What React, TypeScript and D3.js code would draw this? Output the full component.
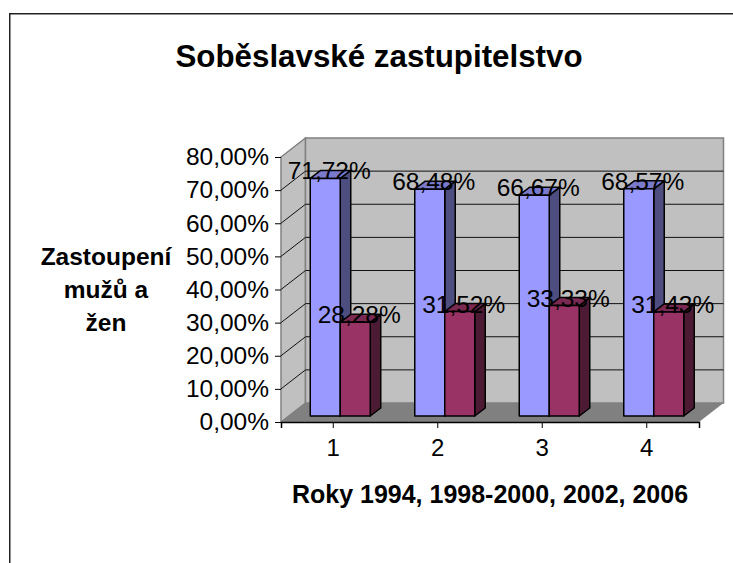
import React, { useEffect, useRef } from "react";
import { select, scaleBand, scaleLinear, axisLeft, axisBottom } from "d3";

const categories = ["1", "2", "3", "4"];
const men = [71.72, 68.48, 66.67, 68.57];
const women = [28.28, 31.52, 33.33, 31.43];
const yTicks = [0, 10, 20, 30, 40, 50, 60, 70, 80];
const yTitle = ["Zastoupení", "mužů a", "žen"];
const chartTitle = "Soběslavské zastupitelstvo";
const xTitle = "Roky 1994, 1998-2000, 2002, 2006";

const FONT = "'Liberation Sans', Arial, sans-serif";
const fmt = (v: number) => v.toFixed(2).replace(".", ",") + "%";

const seriesList = [
  { values: men, front: "#9999ff", side: "#4d4d80", top: "#7a7acc" },
  { values: women, front: "#993366", side: "#4d1a33", top: "#7a2952" },
];

const App = () => {
  const svgRef = useRef<SVGSVGElement>(null);

  useEffect(() => {
    const svg = select(svgRef.current);
    svg.selectAll("*").remove();

    // Frame, it runs off the right and the bottom of the page
    svg
      .append("rect")
      .attr("x", 9.75)
      .attr("y", 13.75)
      .attr("width", 800)
      .attr("height", 700)
      .attr("fill", "white")
      .attr("stroke", "#222")
      .attr("stroke-width", 1.5);

    const xScale = scaleBand().domain(categories).range([281, 699]);
    const yScale = scaleLinear().domain([0, 80]).range([422, 157]);

    // Depth of the walls and of the bars
    const wallDx = 24.5;
    const wallDy = -19;
    const inDx = 7;
    const inDy = -6;
    const barDx = 10.5;
    const barDy = -8;

    const x0 = xScale.range()[0];
    const x1 = xScale.range()[1];
    const yBase = yScale(0);
    const yMax = yScale(80);

    // Walls and floor
    svg
      .append("polygon")
      .attr(
        "points",
        `${x0},${yBase} ${x0},${yMax} ${x0 + wallDx},${yMax + wallDy} ${x0 + wallDx},${yBase + wallDy}`
      )
      .attr("fill", "#c0c0c0")
      .attr("stroke", "#808080")
      .attr("stroke-width", 1.5);
    svg
      .append("rect")
      .attr("x", x0 + wallDx)
      .attr("y", yMax + wallDy)
      .attr("width", x1 - x0)
      .attr("height", yBase - yMax)
      .attr("fill", "#c0c0c0")
      .attr("stroke", "#808080")
      .attr("stroke-width", 1.5);
    svg
      .append("polygon")
      .attr(
        "points",
        `${x0},${yBase} ${x1},${yBase} ${x1 + wallDx},${yBase + wallDy} ${x0 + wallDx},${yBase + wallDy}`
      )
      .attr("fill", "#808080");

    // Gridlines
    svg
      .append("g")
      .selectAll("path")
      .data(yTicks.filter((t) => t > 0 && t < 80))
      .join("path")
      .attr(
        "d",
        (t) =>
          `M${x0},${yScale(t)}L${x0 + wallDx},${yScale(t) + wallDy}H${x1 + wallDx}`
      )
      .attr("fill", "none")
      .attr("stroke", "#111")
      .attr("stroke-width", 1);

    // Axes
    const yAxis = axisLeft(yScale)
      .tickValues(yTicks)
      .tickFormat((d) => fmt(+d))
      .tickSize(6)
      .tickPadding(6);
    const gy = svg.append("g").attr("transform", `translate(${x0},0)`).call(yAxis);
    gy.select(".domain").remove();
    gy.selectAll("text")
      .attr("font-family", FONT)
      .attr("font-size", 24.5)
      .attr("fill", "#000");

    const xAxis = axisBottom(xScale).tickSize(6).tickSizeOuter(6).tickPadding(11);
    const gx = svg.append("g").attr("transform", `translate(0,${yBase})`).call(xAxis);
    gx.selectAll("text")
      .attr("font-family", FONT)
      .attr("font-size", 24)
      .attr("fill", "#000");
    gx.select(".domain").attr("stroke", "#000").attr("stroke-width", 1.5);

    // Bars, the front faces stand on the inner floor line
    const barWidth = 30;
    const barY = (v: number) => yScale(v) + inDy;
    const barX = (cat: string, s: number) =>
      (xScale(cat) as number) + xScale.bandwidth() / 2 - barWidth + inDx + s * barWidth;

    seriesList.forEach((series, s) => {
      const g = svg
        .append("g")
        .attr("stroke", "#000")
        .attr("stroke-width", 1.5)
        .attr("stroke-linejoin", "round");
      const bars = g
        .selectAll("g")
        .data(series.values)
        .join("g");

      bars
        .append("polygon")
        .attr("fill", series.side)
        .attr("points", (v, i) => {
          const r = barX(categories[i], s) + barWidth;
          return `${r},${barY(0)} ${r},${barY(v)} ${r + barDx},${barY(v) + barDy} ${r + barDx},${barY(0) + barDy}`;
        });
      bars
        .append("polygon")
        .attr("fill", series.top)
        .attr("points", (v, i) => {
          const l = barX(categories[i], s);
          return `${l},${barY(v)} ${l + barWidth},${barY(v)} ${l + barWidth + barDx},${barY(v) + barDy} ${l + barDx},${barY(v) + barDy}`;
        });
      bars
        .append("rect")
        .attr("fill", series.front)
        .attr("x", (v, i) => barX(categories[i], s))
        .attr("y", (v) => barY(v))
        .attr("width", barWidth)
        .attr("height", (v) => barY(0) - barY(v));
    });

    // Value labels go on top of everything
    seriesList.forEach((series, s) => {
      svg
        .append("g")
        .selectAll("text")
        .data(series.values)
        .join("text")
        .attr("x", (v, i) => barX(categories[i], s) + barWidth / 2 + 4)
        .attr("y", (v) => barY(v) + 1)
        .attr("text-anchor", "middle")
        .attr("font-family", FONT)
        .attr("font-size", 24.5)
        .attr("fill", "#000")
        .text((v) => fmt(v));
    });

    // Titles
    svg
      .append("text")
      .attr("x", 379)
      .attr("y", 67)
      .attr("text-anchor", "middle")
      .attr("font-family", FONT)
      .attr("font-weight", "bold")
      .attr("font-size", 31.3)
      .text(chartTitle);
    svg
      .append("text")
      .attr("x", 490)
      .attr("y", 503)
      .attr("text-anchor", "middle")
      .attr("font-family", FONT)
      .attr("font-weight", "bold")
      .attr("font-size", 25)
      .text(xTitle);
    svg
      .append("g")
      .selectAll("text")
      .data(yTitle)
      .join("text")
      .attr("x", 106)
      .attr("y", (d, i) => 265 + i * 33)
      .attr("text-anchor", "middle")
      .attr("font-family", FONT)
      .attr("font-weight", "bold")
      .attr("font-size", 24.5)
      .text((d) => d);
  }, []);

  return (
    <svg
      ref={svgRef}
      width={733}
      height={563}
      style={{ position: "absolute", left: 0, top: 0 }}
    />
  );
};

export default App;
